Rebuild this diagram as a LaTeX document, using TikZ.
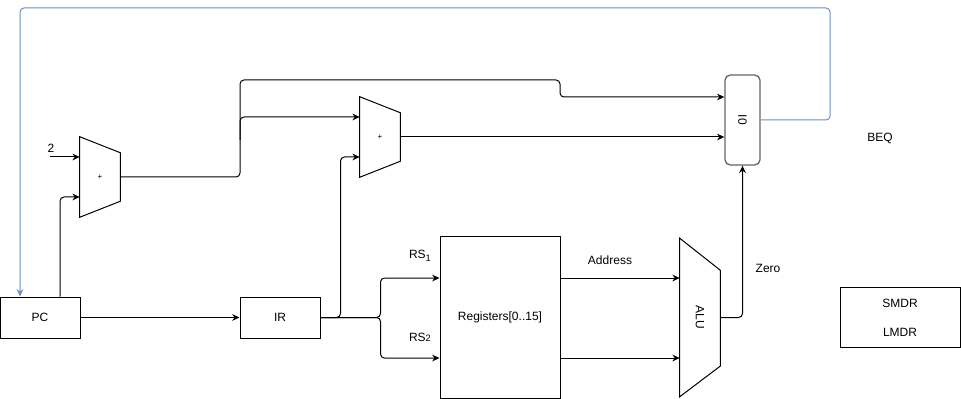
\documentclass[tikz,border=0pt]{standalone}
\usepackage{fontspec}
\setmainfont{Liberation Sans}
\usetikzlibrary{arrows.meta,positioning}
\definecolor{fbblue}{HTML}{6C8EBF}
\tikzset{
  block/.style={
    draw,
    line width=0.75pt,
    minimum width=60pt,
    minimum height=30.75pt,
    inner sep=0pt,
    align=center
  },
  unit/.style={
    minimum width=30pt,
    minimum height=60pt,
    inner sep=0pt
  },
  line/.style={
    -{Stealth[length=5.5pt,width=5pt]},
    line width=0.75pt,
    rounded corners=3pt
  },
  feedback/.style={
    line,
    draw=fbblue
  },
  lbl/.style={
    inner sep=1pt
  }
}

\begin{document}
\begin{tikzpicture}[x=0.75pt, y=-0.75pt, font=\fontsize{9}{11}\selectfont]
  \useasboundingbox (0,0) rectangle (961,399);

  % registers and blocks
  \node[block] (pc) at (40,317.5) {PC};
  \node[block] (ir) at (280,317.5) {IR};
  \node[block, minimum width=90pt, minimum height=120.75pt] (regs) at (500,317.5) {Registers[0..15]};
  \node[block, minimum width=90pt, minimum height=44.25pt] (mdr) at (900,317.5) {SMDR\\[10.5pt]LMDR};
  \node[draw=black!60, line width=1pt, rounded corners=4pt, minimum width=26.25pt,
    minimum height=67.5pt, inner sep=0pt] (mux) at (742.5,120) {};
  \node[rotate=-90] at (mux) {I0};

  % adders and ALU (trapezoids drawn on the node frames)
  \node[unit, font=\fontsize{6}{7}\selectfont] (add1) at (100,177) {+};
  \draw[line width=0.75pt] (add1.north west) -- ([yshift=-12pt]add1.north east)
    -- ([yshift=12pt]add1.south east) -- (add1.south west) -- cycle;
  \node[unit, font=\fontsize{6}{7}\selectfont] (add2) at (380,137) {+};
  \draw[line width=0.75pt] (add2.north west) -- ([yshift=-12pt]add2.north east)
    -- ([yshift=12pt]add2.south east) -- (add2.south west) -- cycle;
  \node[unit, minimum height=118.5pt] (alu) at (700,317.5) {};
  \draw[line width=0.75pt] (alu.north west) -- ([yshift=-24pt]alu.north east)
    -- ([yshift=23pt]alu.south east) -- (alu.south west) -- cycle;
  \node[rotate=-90] at (alu) {ALU};

  % labels
  \coordinate (in2) at (50,157);
  \node[lbl] (two) at (51,148) {2};
  \node[lbl] (beq) at (880,138) {BEQ};
  \node[lbl] (rs1) at (420,256) {RS\raisebox{-2.2pt}{\fontsize{7}{8}\selectfont 1}};
  \node[lbl] (rs2) at (420,337) {RS{\fontsize{7}{8}\selectfont 2}};
  \node[lbl] (addr) at (610,260) {Address};
  \node[lbl] (zero) at (768,268) {Zero};

  % datapath
  \draw[line] (in2) -- (in2 -| add1.west);
  \draw[line] ([xshift=15pt]pc.north) |- ([yshift=-15pt]add1.west);
  \draw[line] (add1.east) -| (240,80) -| (560,97) -- ([yshift=17.25pt]mux.west);
  \draw[line] (240,140) |- ([yshift=15pt]add2.west);
  \draw[line] (add2.east) -- (add2.east -| mux.west);
  \draw[line] (ir.east) -- ++(20,0) |- ([yshift=-15pt]add2.west);
  \draw[line] (pc.east) -- (ir.west);
  \draw[line] (ir.east) -- ++(60,0) |- ([yshift=29.6pt]regs.west);
  \draw[line] (ir.east) -- ++(60,0) |- ([yshift=-30.4pt]regs.west);
  \draw[line] ([yshift=29.6pt]regs.east) -- ([yshift=29.6pt]regs.east -| alu.west);
  \draw[line] ([yshift=-30.4pt]regs.east) -- ([yshift=-30.4pt]regs.east -| alu.west);
  \draw[line] (alu.east) -| (mux.south);
  \draw[feedback] (mux.east) -| (830,8) -| ([xshift=-15pt]pc.north);
\end{tikzpicture}
\end{document}
